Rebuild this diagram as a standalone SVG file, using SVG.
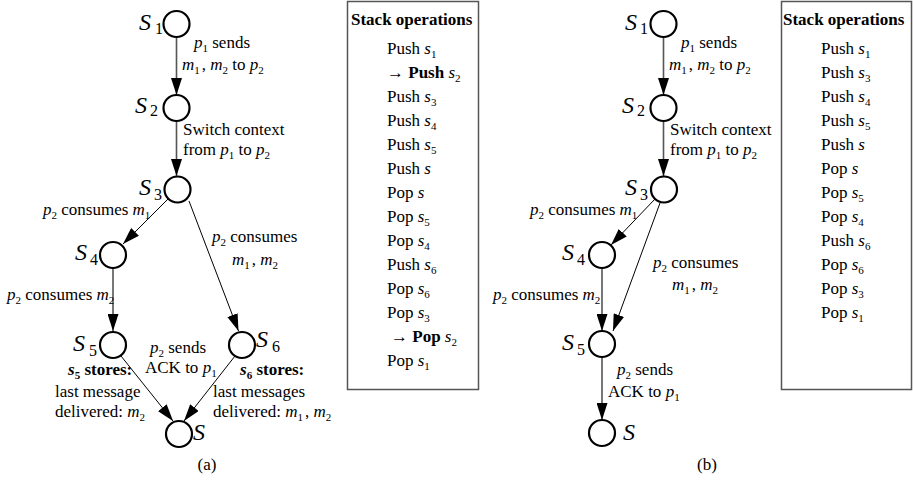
<svg xmlns="http://www.w3.org/2000/svg" width="913" height="480" viewBox="0 0 913 480">
<style>
text{font-family:"Liberation Serif","Times New Roman",serif;font-size:17px;fill:#000}
.i{font-style:italic}
.b{font-weight:bold}
.sub{font-size:11px;font-style:normal}
.nl{font-size:24px;font-style:italic}
.ns{font-size:16px;font-style:normal}
.n circle{fill:#fff;stroke:#000;stroke-width:2.2}
.e{fill:none;stroke:#000;stroke-width:1;marker-end:url(#ah)}
.v{stroke:#555;stroke-width:1.6}
.box{fill:#fff;stroke:#555;stroke-width:1.5}
</style>
<defs>
<marker id="ah" viewBox="0 0 17 11" markerWidth="17" markerHeight="11" refX="17" refY="5.5" orient="auto" markerUnits="userSpaceOnUse">
<path d="M0,0 L17,5.5 L0,11 z" fill="#000"/>
</marker>
</defs>

<!-- ===== (a) ===== -->
<g id="connectors-a">
<path class="e v" d="M176.5,37 L176.5,95"/>
<path class="e v" d="M176.5,121 L176.5,176"/>
<path class="e" d="M168,199 L123,244"/>
<path class="e" d="M189,201 L238.5,331"/>
<path class="e v" d="M113,268 L113,331"/>
<path class="e" d="M121,356 L173,421"/>
<path class="e" d="M235,356 L184,421"/>
</g>

<g id="a-s1" class="n"><circle cx="176.5" cy="24" r="13"/><text class="nl" x="139" y="30">S<tspan class="ns" x="155" dy="4">1</tspan></text></g>
<g id="a-s2" class="n"><circle cx="176.5" cy="108" r="13"/><text class="nl" x="135" y="113">S<tspan class="ns" x="150" dy="3">2</tspan></text></g>
<g id="a-s3" class="n"><circle cx="177.5" cy="189.5" r="13"/><text class="nl" x="139" y="195">S<tspan class="ns" x="154" dy="5">3</tspan></text></g>
<g id="a-s4" class="n"><circle cx="113" cy="255" r="13"/><text class="nl" x="75" y="260">S<tspan class="ns" x="90" dy="5">4</tspan></text></g>
<g id="a-s5" class="n"><circle cx="113" cy="345" r="13"/><text class="nl" x="73" y="351">S<tspan class="ns" x="89" dy="5">5</tspan></text></g>
<g id="a-s6" class="n"><circle cx="242" cy="345" r="13"/><text class="nl" x="256" y="347">S<tspan class="ns" x="272" dy="5">6</tspan></text></g>
<g id="a-s" class="n"><circle cx="179" cy="434" r="13"/><text class="nl" x="193" y="440">S</text></g>

<g id="labels-a">
<text x="194" y="48"><tspan class="i">p</tspan><tspan class="sub" dy="4">1</tspan><tspan dy="-4"> sends</tspan></text>
<text x="182" y="70"><tspan class="i">m</tspan><tspan class="sub" dy="4">1</tspan><tspan dy="-4" dx="2">, </tspan><tspan class="i">m</tspan><tspan class="sub" dy="4">2</tspan><tspan dy="-4"> to </tspan><tspan class="i">p</tspan><tspan class="sub" dy="4">2</tspan></text>
<text x="183" y="135">Switch context</text>
<text x="183" y="155">from <tspan class="i">p</tspan><tspan class="sub" dy="4">1</tspan><tspan dy="-4"> to </tspan><tspan class="i">p</tspan><tspan class="sub" dy="4">2</tspan></text>
<text x="43" y="215"><tspan class="i">p</tspan><tspan class="sub" dy="4">2</tspan><tspan dy="-4"> consumes </tspan><tspan class="i">m</tspan><tspan class="sub" dy="4">1</tspan></text>
<text x="212" y="242"><tspan class="i">p</tspan><tspan class="sub" dy="4">2</tspan><tspan dy="-4"> consumes</tspan></text>
<text x="232" y="265"><tspan class="i">m</tspan><tspan class="sub" dy="4">1</tspan><tspan dy="-4" dx="2">, </tspan><tspan class="i">m</tspan><tspan class="sub" dy="4">2</tspan></text>
<text x="7" y="300"><tspan class="i">p</tspan><tspan class="sub" dy="4">2</tspan><tspan dy="-4"> consumes </tspan><tspan class="i">m</tspan><tspan class="sub" dy="4">2</tspan></text>
<text x="150" y="353"><tspan class="i">p</tspan><tspan class="sub" dy="4">2</tspan><tspan dy="-4"> sends</tspan></text>
<text x="145" y="373">ACK to <tspan class="i">p</tspan><tspan class="sub" dy="4">1</tspan></text>
<text x="68" y="375" class="b"><tspan class="i">s</tspan><tspan class="sub" dy="4">5</tspan><tspan dy="-4"> stores:</tspan></text>
<text x="55" y="397">last message</text>
<text x="55" y="417">delivered: <tspan class="i">m</tspan><tspan class="sub" dy="4">2</tspan></text>
<text x="240" y="375" class="b"><tspan class="i">s</tspan><tspan class="sub" dy="4">6</tspan><tspan dy="-4"> stores:</tspan></text>
<text x="213" y="397">last messages</text>
<text x="213" y="417">delivered: <tspan class="i">m</tspan><tspan class="sub" dy="4">1</tspan><tspan dy="-4" dx="2">, </tspan><tspan class="i">m</tspan><tspan class="sub" dy="4">2</tspan></text>
<text x="207" y="470" text-anchor="middle">(a)</text>
</g>

<g id="stack-a">
<rect class="box" x="347.5" y="1.5" width="131" height="388"/>
<text x="351" y="25" class="b">Stack operations</text>
<text x="387" y="54">Push <tspan class="i">s</tspan><tspan class="sub" dy="4">1</tspan></text>
<text x="387" y="78">→ <tspan class="b">Push</tspan> <tspan class="i">s</tspan><tspan class="sub" dy="4">2</tspan></text>
<text x="387" y="102">Push <tspan class="i">s</tspan><tspan class="sub" dy="4">3</tspan></text>
<text x="387" y="126">Push <tspan class="i">s</tspan><tspan class="sub" dy="4">4</tspan></text>
<text x="387" y="150">Push <tspan class="i">s</tspan><tspan class="sub" dy="4">5</tspan></text>
<text x="387" y="174">Push <tspan class="i">s</tspan></text>
<text x="387" y="198">Pop <tspan class="i">s</tspan></text>
<text x="387" y="222">Pop <tspan class="i">s</tspan><tspan class="sub" dy="4">5</tspan></text>
<text x="387" y="246">Pop <tspan class="i">s</tspan><tspan class="sub" dy="4">4</tspan></text>
<text x="387" y="270">Push <tspan class="i">s</tspan><tspan class="sub" dy="4">6</tspan></text>
<text x="387" y="294">Pop <tspan class="i">s</tspan><tspan class="sub" dy="4">6</tspan></text>
<text x="387" y="318">Pop <tspan class="i">s</tspan><tspan class="sub" dy="4">3</tspan></text>
<text x="391" y="342">→ <tspan class="b">Pop</tspan> <tspan class="i">s</tspan><tspan class="sub" dy="4">2</tspan></text>
<text x="387" y="366">Pop <tspan class="i">s</tspan><tspan class="sub" dy="4">1</tspan></text>
</g>

<!-- ===== (b) ===== -->
<g id="connectors-b">
<path class="e v" d="M663.5,37 L663.5,95"/>
<path class="e v" d="M663.5,121 L663.5,176"/>
<path class="e" d="M655,199 L611,245"/>
<path class="e" d="M660,203 L613,331"/>
<path class="e v" d="M602,268 L602,331"/>
<path class="e v" d="M602,357 L602,420"/>
</g>

<g id="b-s1" class="n"><circle cx="663.5" cy="24" r="13"/><text class="nl" x="625" y="30">S<tspan class="ns" x="640" dy="4">1</tspan></text></g>
<g id="b-s2" class="n"><circle cx="663.5" cy="108" r="13"/><text class="nl" x="622" y="113">S<tspan class="ns" x="637" dy="3">2</tspan></text></g>
<g id="b-s3" class="n"><circle cx="664" cy="189.5" r="13"/><text class="nl" x="625" y="195">S<tspan class="ns" x="640" dy="5">3</tspan></text></g>
<g id="b-s4" class="n"><circle cx="602" cy="255" r="13"/><text class="nl" x="562" y="260">S<tspan class="ns" x="577" dy="5">4</tspan></text></g>
<g id="b-s5" class="n"><circle cx="602" cy="344" r="13"/><text class="nl" x="562" y="350">S<tspan class="ns" x="577" dy="5">5</tspan></text></g>
<g id="b-s" class="n"><circle cx="602" cy="433" r="13"/><text class="nl" x="623" y="440">S</text></g>

<g id="labels-b">
<text x="681" y="48"><tspan class="i">p</tspan><tspan class="sub" dy="4">1</tspan><tspan dy="-4"> sends</tspan></text>
<text x="669" y="70"><tspan class="i">m</tspan><tspan class="sub" dy="4">1</tspan><tspan dy="-4" dx="2">, </tspan><tspan class="i">m</tspan><tspan class="sub" dy="4">2</tspan><tspan dy="-4"> to </tspan><tspan class="i">p</tspan><tspan class="sub" dy="4">2</tspan></text>
<text x="670" y="135">Switch context</text>
<text x="670" y="155">from <tspan class="i">p</tspan><tspan class="sub" dy="4">1</tspan><tspan dy="-4"> to </tspan><tspan class="i">p</tspan><tspan class="sub" dy="4">2</tspan></text>
<text x="530" y="215"><tspan class="i">p</tspan><tspan class="sub" dy="4">2</tspan><tspan dy="-4"> consumes </tspan><tspan class="i">m</tspan><tspan class="sub" dy="4">1</tspan></text>
<text x="653" y="268"><tspan class="i">p</tspan><tspan class="sub" dy="4">2</tspan><tspan dy="-4"> consumes</tspan></text>
<text x="672" y="290"><tspan class="i">m</tspan><tspan class="sub" dy="4">1</tspan><tspan dy="-4" dx="2">, </tspan><tspan class="i">m</tspan><tspan class="sub" dy="4">2</tspan></text>
<text x="493" y="300"><tspan class="i">p</tspan><tspan class="sub" dy="4">2</tspan><tspan dy="-4"> consumes </tspan><tspan class="i">m</tspan><tspan class="sub" dy="4">2</tspan></text>
<text x="617" y="375"><tspan class="i">p</tspan><tspan class="sub" dy="4">2</tspan><tspan dy="-4"> sends</tspan></text>
<text x="608" y="397">ACK to <tspan class="i">p</tspan><tspan class="sub" dy="4">1</tspan></text>
<text x="707" y="470" text-anchor="middle">(b)</text>
</g>

<g id="stack-b">
<rect class="box" x="781.5" y="1.5" width="130" height="388"/>
<text x="783" y="25" class="b">Stack operations</text>
<text x="821" y="54">Push <tspan class="i">s</tspan><tspan class="sub" dy="4">1</tspan></text>
<text x="821" y="78">Push <tspan class="i">s</tspan><tspan class="sub" dy="4">3</tspan></text>
<text x="821" y="102">Push <tspan class="i">s</tspan><tspan class="sub" dy="4">4</tspan></text>
<text x="821" y="126">Push <tspan class="i">s</tspan><tspan class="sub" dy="4">5</tspan></text>
<text x="821" y="150">Push <tspan class="i">s</tspan></text>
<text x="821" y="174">Pop <tspan class="i">s</tspan></text>
<text x="821" y="198">Pop <tspan class="i">s</tspan><tspan class="sub" dy="4">5</tspan></text>
<text x="821" y="222">Pop <tspan class="i">s</tspan><tspan class="sub" dy="4">4</tspan></text>
<text x="821" y="246">Push <tspan class="i">s</tspan><tspan class="sub" dy="4">6</tspan></text>
<text x="821" y="270">Pop <tspan class="i">s</tspan><tspan class="sub" dy="4">6</tspan></text>
<text x="821" y="294">Pop <tspan class="i">s</tspan><tspan class="sub" dy="4">3</tspan></text>
<text x="821" y="318">Pop <tspan class="i">s</tspan><tspan class="sub" dy="4">1</tspan></text>
</g>
</svg>
